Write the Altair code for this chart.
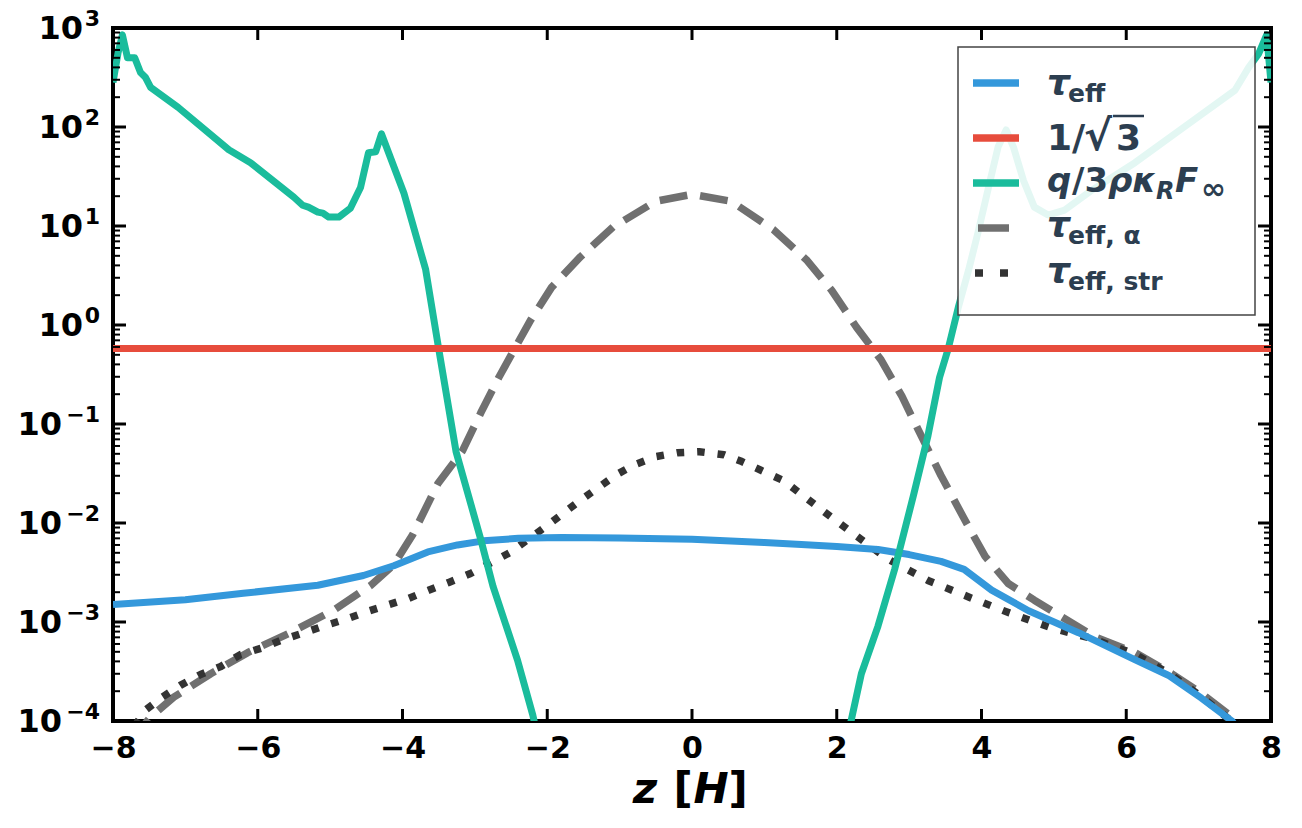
import altair as alt
import pandas as pd

FONT = "DejaVu Sans"
LEG_TXT = "#2c3e50"
W, H = 1158, 693

# effective optical depth tau_eff
z_teff = [-8.0, -7.0, -6.2, -5.17, -4.54, -4.12, -3.65, -3.24, -2.88, -2.4, -1.8, -1.0,
          0.0, 1.0, 1.51, 2.0, 2.57, 3.0, 3.44, 3.76, 4.14, 4.65, 5.34, 6.11, 6.58,
          7.04, 7.46, 7.7]
teff = [1.5e-3, 1.68e-3, 1.95e-3, 2.35e-3, 2.95e-3, 3.7e-3, 5.1e-3, 6.0e-3, 6.6e-3,
        7.0e-3, 7.15e-3, 7.05e-3, 6.85e-3, 6.35e-3, 6.05e-3, 5.8e-3, 5.4e-3, 4.8e-3,
        4.1e-3, 3.4e-3, 2.1e-3, 1.3e-3, 7.8e-4, 4.2e-4, 2.9e-4, 1.7e-4, 1.0e-4, 6e-5]

# constant level 1/sqrt(3)
z_level = [-8.0, 8.0]
level = [0.5774, 0.5774]

# q / (3 rho kappa_R F_inf)
z_q = [-8.0, -7.93, -7.87, -7.8, -7.7, -7.62, -7.55, -7.48, -7.1, -6.4, -6.1, -5.5,
       -5.38, -5.3, -5.17, -5.1, -5.02, -4.88, -4.72, -4.58, -4.47, -4.37, -4.29,
       -3.98, -3.68, -3.5, -3.26, -2.92, -2.75, -2.41, -2.2, -2.0, 0.0,
       2.05, 2.2, 2.34, 2.57, 2.8, 3.06, 3.26, 3.42, 3.54, 3.68, 3.82, 3.95, 4.1,
       4.23, 4.34, 4.44, 4.58, 4.73, 4.92, 5.15, 5.52, 6.12, 6.8, 7.5, 7.69, 7.83,
       7.87, 7.94, 8.0]
q_ratio = [282, 562, 851, 501, 501, 355, 316, 251, 158, 58.9, 43.6, 19.5,
           16.2, 15.5, 13.8, 13.5, 12.3, 12.3, 15.1, 24.5, 55.0, 56.2, 85.1,
           21.4, 3.63, 0.575, 0.0525, 6.9e-3, 2.3e-3, 4.1e-4, 1.15e-4, 2.5e-5, 1e-7,
           3.2e-5, 1.02e-4, 3.0e-4, 9.1e-4, 3.4e-3, 0.019, 0.076, 0.295, 0.575, 1.51,
           3.55, 8.5, 25.1, 63.1, 93.3, 63.1, 28.8, 15.5, 12.9, 14.5, 22.9, 43.6,
           100, 234, 398, 550, 646, 851, 282]

# tau_eff,alpha
z_alpha = [-7.75, -7.48, -7.16, -6.65, -6.14, -5.55, -4.95, -4.44, -4.12, -3.86,
           -3.51, -3.17, -2.92, -2.67, -2.42, -2.23, -1.94, -1.54, -1.09, -0.5, 0.0,
           0.54, 1.13, 1.58, 1.93, 2.27, 2.61, 2.9, 3.12, 3.44, 3.77, 4.05, 4.37,
           4.73, 5.56, 6.12, 6.63, 7.04, 7.46, 7.7]
teff_alpha = [6.3e-5, 1.10e-4, 1.74e-4, 3.0e-4, 4.9e-4, 7.8e-4, 1.32e-3, 2.34e-3,
              3.8e-3, 7.6e-3, 0.0251, 0.0537, 0.129, 0.295, 0.631, 1.12, 2.40, 4.90,
              9.77, 17.8, 20.9, 17.8, 9.12, 4.57, 2.24, 0.955, 0.447, 0.191, 0.0891,
              0.0302, 0.0107, 4.6e-3, 2.45e-3, 1.66e-3, 7.1e-4, 4.9e-4, 3.0e-4,
              1.9e-4, 1.10e-4, 6.3e-5]

# tau_eff,str
z_str = [-7.7, -7.55, -7.32, -7.07, -6.79, -6.51, -6.24, -5.93, -5.66, -5.36, -5.09,
         -4.78, -4.51, -4.21, -3.91, -3.64, -3.36, -3.06, -2.52, -2.03, -1.54, -1.04,
         -0.79, -0.5, -0.2, 0.1, 0.44, 0.69, 1.26, 1.74, 2.22, 2.71, 3.26, 3.83,
         4.39, 4.97, 5.5, 6.1, 6.6, 7.05, 7.45, 7.6]
teff_str = [8.9e-5, 1.29e-4, 1.74e-4, 2.29e-4, 2.95e-4, 3.55e-4, 4.68e-4, 5.5e-4,
            6.6e-4, 7.8e-4, 9.1e-4, 1.07e-3, 1.26e-3, 1.48e-3, 1.74e-3, 2.09e-3,
            2.51e-3, 3.09e-3, 5.0e-3, 9.1e-3, 0.0170, 0.0309, 0.0389, 0.0468, 0.0513,
            0.0525, 0.049, 0.0417, 0.0269, 0.0145, 7.9e-3, 4.3e-3, 2.63e-3, 1.78e-3,
            1.23e-3, 8.7e-4, 6.9e-4, 4.8e-4, 3.0e-4, 1.74e-4, 1.0e-4, 7.1e-5]

x_ticks = [-8, -6, -4, -2, 0, 2, 4, 6, 8]
decades = [-4, -3, -2, -1, 0, 1, 2, 3]
minor_ticks = [m * 10.0 ** e for e in range(-4, 3) for m in range(2, 10)]

xs = alt.Scale(domain=[-8, 8], nice=False, zero=False)
ys = alt.Scale(type="log", domain=[1e-4, 1e3], nice=False)
x_axis = alt.Axis(values=x_ticks, format="d", title=None, ticks=False, domain=False,
                  grid=False, labelFont=FONT, labelFontSize=30, labelFontWeight="bold",
                  labelColor="black", labelPadding=12, labelFlush=False,
                  labelOverlap=False)


def curve(z, v, color, width, dash=None):
    kw = dict(color=color, strokeWidth=width, clip=True, strokeCap="butt",
              strokeJoin="round")
    if dash:
        kw["strokeDash"] = dash
    return alt.Chart(pd.DataFrame({"z": z, "v": v})).mark_line(**kw).encode(
        x=alt.X("z:Q", scale=xs, axis=x_axis),
        y=alt.Y("v:Q", scale=ys, axis=None),
    )


BLUE, RED, GREEN, GREY, DARK = "#3498db", "#e74c3c", "#1abc9c", "#707070", "#333333"
DASH, DOT = [28, 13], [7.5, 13]

lines = [
    curve(z_alpha, teff_alpha, GREY, 7.5, DASH),
    curve(z_str, teff_str, DARK, 7.5, DOT),
    curve(z_teff, teff, BLUE, 7),
    curve(z_q, q_ratio, GREEN, 7),
    curve(z_level, level, RED, 7),
]

# inward ticks on all four sides
xt = pd.DataFrame({"t": x_ticks})
yt = pd.DataFrame({"v": [10.0 ** e for e in decades]})
ym = pd.DataFrame({"v": minor_ticks})
tick_layers = []
for y0, y1 in [(H, H - 12), (0, 12)]:
    tick_layers.append(alt.Chart(xt).mark_rule(color="black", strokeWidth=3).encode(
        x=alt.X("t:Q", scale=xs, axis=x_axis), y=alt.value(y0), y2=alt.value(y1)))
for df, ln, sw in [(yt, 13, 3), (ym, 7, 2)]:
    for x0, x1 in [(0, ln), (W - ln, W)]:
        tick_layers.append(alt.Chart(df).mark_rule(color="black", strokeWidth=sw).encode(
            y=alt.Y("v:Q", scale=ys, axis=None), x=alt.value(x0), x2=alt.value(x1)))

# decade labels 10^n on the left
dec = alt.Chart(pd.DataFrame({"e": decades})).transform_calculate(
    v="pow(10, datum.e)",
    ex="(datum.e < 0 ? '\u2212' : '') + abs(datum.e)",
)
base_neg = dec.transform_filter("datum.e < 0").mark_text(
    text="10", font=FONT, fontSize=32, fontWeight="bold", align="right",
    baseline="middle", dy=1, color="black").encode(
    y=alt.Y("v:Q", scale=ys, axis=None), x=alt.value(-51))
base_pos = dec.transform_filter("datum.e >= 0").mark_text(
    text="10", font=FONT, fontSize=32, fontWeight="bold", align="right",
    baseline="middle", dy=1, color="black").encode(
    y=alt.Y("v:Q", scale=ys, axis=None), x=alt.value(-30))
expo = dec.mark_text(font=FONT, fontSize=22, fontWeight="bold", align="right",
                     baseline="middle", dy=-9, color="black").encode(
    y=alt.Y("v:Q", scale=ys, axis=None), x=alt.value(-13), text="ex:N")

one = pd.DataFrame({"k": [0]})


def txt(s, x, y, size, italic=False, color="black", align="left"):
    return alt.Chart(one).mark_text(
        text=s, font=FONT, fontSize=size, fontWeight="bold",
        fontStyle="italic" if italic else "normal", align=align,
        baseline="alphabetic", color=color).encode(x=alt.value(x), y=alt.value(y))


# x-axis title: z [H]
title_layers = [
    txt("z", 532, 775, 42, italic=True, align="center"),
    txt("[", 570, 775, 42, align="center"),
    txt("H", 598, 775, 42, italic=True, align="center"),
    txt("]", 625, 775, 42, align="center"),
]

# legend
leg = [
    alt.Chart(one).mark_rect(fill="white", fillOpacity=0.88, stroke="#444444",
                             strokeWidth=1.5).encode(
        x=alt.value(845), x2=alt.value(1142), y=alt.value(19), y2=alt.value(287)),
]
samples = [(BLUE, None, 860, 906, 55), (RED, None, 860, 906, 110),
           (GREEN, None, 860, 906, 155), (GREY, [31, 13], 865, 896, 200),
           (DARK, [8, 17], 862, 895, 245)]
for col, dash, x0, x1, yy in samples:
    kw = dict(color=col, strokeWidth=7.5, strokeCap="butt")
    if dash:
        kw["strokeDash"] = dash
    leg.append(alt.Chart(one).mark_rule(**kw).encode(
        x=alt.value(x0), x2=alt.value(x1), y=alt.value(yy)))

leg += [
    txt("\u03c4", 934, 67, 36, italic=True, color=LEG_TXT),
    txt("eff", 955, 74, 25, color=LEG_TXT),
    txt("1/", 934, 122, 36, color=LEG_TXT),
    txt("\u221a", 971, 122, 42, color=LEG_TXT),
    txt("3", 1003, 122, 36, color=LEG_TXT),
    alt.Chart(one).mark_rule(color=LEG_TXT, strokeWidth=2.5).encode(
        x=alt.value(1000), x2=alt.value(1031), y=alt.value(88)),
    txt("q", 934, 164, 34, italic=True, color=LEG_TXT),
    txt("/3", 959, 164, 34, color=LEG_TXT),
    txt("\u03c1\u03ba", 995, 164, 34, italic=True, color=LEG_TXT),
    txt("R", 1043, 171, 24, italic=True, color=LEG_TXT),
    txt("F", 1062, 164, 34, italic=True, color=LEG_TXT),
    txt("\u221e", 1088, 171, 30, color=LEG_TXT),
    txt("\u03c4", 934, 209, 36, italic=True, color=LEG_TXT),
    txt("eff, \u03b1", 955, 216, 25, color=LEG_TXT),
    txt("\u03c4", 934, 255, 36, italic=True, color=LEG_TXT),
    txt("eff, str", 955, 262, 25, color=LEG_TXT),
]

chart = alt.layer(
    *lines, *tick_layers, base_neg, base_pos, expo, *title_layers, *leg
).properties(
    width=W, height=H,
    autosize=alt.AutoSizeParams(type="none"),
    padding={"left": 113, "top": 28, "right": 31, "bottom": 107},
    background="white",
).configure_view(stroke="black", strokeWidth=4)

chart.save("out.html", embed_options={"renderer": "svg", "actions": False})
